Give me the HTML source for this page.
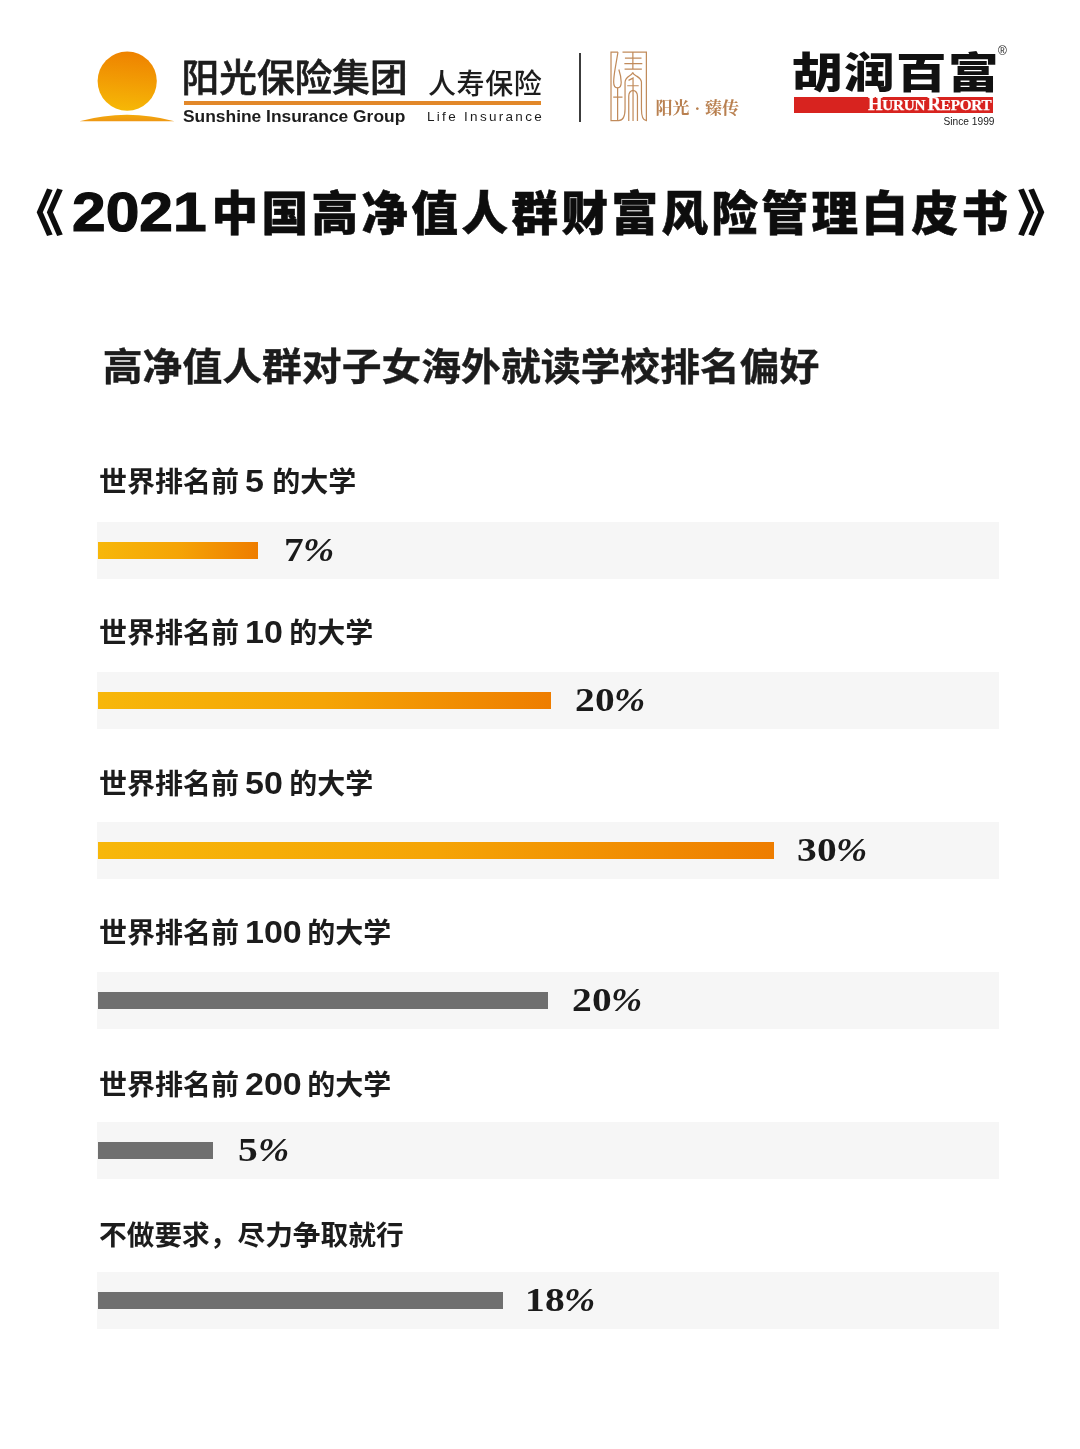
<!DOCTYPE html>
<html lang="zh-CN">
<head>
<meta charset="utf-8">
<title>2021中国高净值人群财富风险管理白皮书</title>
<style>
html,body{margin:0;padding:0;background:#fff;}
body{width:1080px;height:1449px;position:relative;overflow:hidden;font-family:"Liberation Sans","Noto Sans CJK SC",sans-serif;color:#1a1a1a;}
.abs{position:absolute;white-space:nowrap;line-height:1;}
.band{position:absolute;left:97px;width:902px;height:57px;background:#f6f6f6;}
.bar{position:absolute;left:98px;height:17px;}
.bar.o{background:linear-gradient(90deg,#f7b70a 0%,#f5a406 50%,#ee7d00 100%);}
.bar.g{background:#6f6f6f;}
.lbl{position:absolute;left:99px;white-space:nowrap;line-height:1;font-size:28px;font-weight:700;color:#1c1c1c;}
.lbl b{display:inline-block;font-family:"Liberation Sans",sans-serif;font-weight:700;font-size:31.5px;transform:scaleX(1.08);transform-origin:0 50%;margin-left:-1.5px;}
.lbl b.d1{margin-right:1.6px}.lbl b.d2{margin-right:1.2px}.lbl b.d3{margin-right:1.6px}
.pct{position:absolute;white-space:nowrap;line-height:1;font-family:"Liberation Serif",serif;font-weight:700;font-size:34px;color:#1a1a1a;}
.pct b{display:inline-block;font-weight:700;letter-spacing:0.3px;transform:scaleX(1.16);transform-origin:0 50%;}
.pct i{display:inline-block;font-style:italic;transform:scaleX(1.1);transform-origin:0 50%;}
.pct b.n1{margin-right:2.4px}.pct b.n2{margin-right:4.0px}
</style>
</head>
<body>

<!-- HEADER -->
<svg class="abs" style="left:70px;top:40px" width="120" height="90" viewBox="70 40 120 90">
  <defs>
    <linearGradient id="sun" x1="0.55" y1="0" x2="0.45" y2="1">
      <stop offset="0" stop-color="#ee8200"/>
      <stop offset="0.5" stop-color="#f29c04"/>
      <stop offset="1" stop-color="#f6b806"/>
    </linearGradient>
    <linearGradient id="sunb" x1="0" y1="0" x2="0" y2="1">
      <stop offset="0" stop-color="#f4aa0a"/>
      <stop offset="1" stop-color="#ee9714"/>
    </linearGradient>
  </defs>
  <circle cx="127.2" cy="81.1" r="29.6" fill="url(#sun)"/>
  <path d="M79.5 121.2 Q127 108.2 174.5 121.2 Z" fill="url(#sunb)"/>
</svg>
<div class="abs" style="left:181.5px;top:60px;font-size:37.7px;font-weight:500;-webkit-text-stroke:0.65px #1d1d1d;color:#1d1d1d;">阳光保险集团</div>
<div class="abs" style="left:184px;top:101px;width:357px;height:3.5px;background:#e2882a;"></div>
<div class="abs" style="left:183px;top:108px;font-size:17.4px;font-weight:700;color:#1d1d1d;">Sunshine Insurance Group</div>
<div class="abs" style="left:428px;top:70.5px;font-size:28px;font-weight:500;letter-spacing:0.6px;color:#1d1d1d;">人寿保险</div>
<div class="abs" style="left:427px;top:110px;font-size:13.5px;letter-spacing:2.3px;color:#1d1d1d;">Life Insurance</div>
<div class="abs" style="left:579px;top:53px;width:1.5px;height:69px;background:#3c3c3c;"></div>

<svg class="abs" style="left:600px;top:44px" width="60" height="84" viewBox="0 0 1035 1449" fill="none" stroke="#c18b5b" stroke-width="21" stroke-linecap="butt" stroke-linejoin="miter">
  <path d="M310 140 H190 V1320 H320 C400 1320 432 1230 432 1120 V660 C432 600 470 572 510 546 C540 528 560 512 565 488 C570 512 590 528 620 546 C660 572 715 600 715 660 V1120 C715 1230 745 1320 800 1320 V140 H388"/>
  <path d="M310 140 L262 420 C245 520 236 600 236 660 C236 720 262 756 302 756 C342 756 366 720 366 660 C366 590 345 500 325 440"/>
  <path d="M304 756 V1320 M228 915 H388"/>
  <path d="M567 140 V432 M430 245 H716 M420 340 H730 M424 432 H722"/>
  <path d="M492 628 L570 588 V1330 M470 720 H668"/>
  <path d="M570 800 C520 810 496 850 496 900 V1330 M570 800 C620 810 646 850 646 900 V1330"/>
</svg>
<div class="abs" style="left:655.5px;top:100px;font-family:'Liberation Serif','Noto Serif CJK SC',serif;font-weight:700;font-size:17px;color:#b98050;">阳光<span style="display:inline-block;width:15.5px;text-align:center">·</span>臻传</div>

<div class="abs" id="hurun" style="left:792px;top:53px;font-size:42.5px;font-weight:900;letter-spacing:1.2px;color:#111;transform:scaleX(1.19);transform-origin:0 0;">胡润百富</div>
<div class="abs" style="left:793.5px;top:97px;width:199px;height:15.5px;background:#d8231f;"></div>
<div class="abs" id="hr" style="left:868px;top:95px;font-family:'Liberation Serif',serif;font-weight:700;font-size:14.6px;color:#fff;-webkit-text-stroke:0.25px #fff;letter-spacing:-0.2px;transform:scaleX(1.04);transform-origin:0 0;line-height:18px;"><span style="font-size:18px">H</span>URUN<span style="font-size:18px;margin-left:2px">R</span>EPORT</div>
<div class="abs" id="since" style="left:943.5px;top:117px;font-size:10.2px;color:#222;">Since 1999</div>
<div class="abs" id="reg" style="left:998px;top:45px;font-size:12px;color:#222;">®</div>

<!-- TITLE -->
<div class="abs" id="title" style="left:14px;top:184px;font-size:50px;font-weight:900;color:#0d0d0d;"><span id="tq1" style="display:inline-block;transform:scaleX(1.12);transform-origin:100% 50%;">《</span><span id="tnum" style="display:inline-block;font-family:'Liberation Sans',sans-serif;font-weight:700;font-size:56px;-webkit-text-stroke:1.2px #0d0d0d;transform:scaleX(1.08);transform-origin:0 50%;margin-left:8px;width:142px;vertical-align:baseline;">2021</span><span id="tcjk" style="position:relative;top:-1px;margin-left:-2.5px;font-size:46.5px;letter-spacing:3.5px;-webkit-text-stroke:0.6px #0d0d0d;">中国高净值人群财富风险管理白皮书</span><span id="tq2" style="display:inline-block;transform:scaleX(1.12);transform-origin:0 50%;margin-left:5.5px;">》</span></div>
<div class="abs" id="sub" style="left:102.8px;top:348px;font-size:39.82px;font-weight:700;color:#1c1c1c;-webkit-text-stroke:0.4px #1c1c1c;transform:scaleY(0.95);transform-origin:0 50%;">高净值人群对子女海外就读学校排名偏好</div>

<!-- ROWS -->
<div class="lbl" style="top:466px">世界排名前 <b class="d1">5</b> 的大学</div>
<div class="band" style="top:522px"></div>
<div class="bar o" style="top:542px;width:160px"></div>
<div class="pct" style="left:283.5px;top:533.5px;margin-top:-1px"><b class="n1">7</b><i>%</i></div>

<div class="lbl" style="top:616.5px">世界排名前 <b class="d2">10</b> 的大学</div>
<div class="band" style="top:672px"></div>
<div class="bar o" style="top:692px;width:453px"></div>
<div class="pct" style="left:575px;top:683.5px;margin-top:-1px"><b class="n2">20</b><i>%</i></div>

<div class="lbl" style="top:768px">世界排名前 <b class="d2">50</b> 的大学</div>
<div class="band" style="top:822px"></div>
<div class="bar o" style="top:842px;width:676px"></div>
<div class="pct" style="left:797px;top:833.5px;margin-top:-1px"><b class="n2">30</b><i>%</i></div>

<div class="lbl" style="top:916.5px">世界排名前 <b class="d3">100</b> 的大学</div>
<div class="band" style="top:972px"></div>
<div class="bar g" style="top:992px;width:450px"></div>
<div class="pct" style="left:572px;top:983.5px;margin-top:-1px"><b class="n2">20</b><i>%</i></div>

<div class="lbl" style="top:1068.5px">世界排名前 <b class="d3">200</b> 的大学</div>
<div class="band" style="top:1122px"></div>
<div class="bar g" style="top:1142px;width:115px"></div>
<div class="pct" style="left:238px;top:1133.5px;margin-top:-1px"><b class="n1">5</b><i>%</i></div>

<div class="lbl" style="top:1222px;font-size:27.7px">不做要求，尽力争取就行</div>
<div class="band" style="top:1272px"></div>
<div class="bar g" style="top:1292px;width:405px"></div>
<div class="pct" style="left:525px;top:1283.5px;margin-top:-1px"><b class="n2">18</b><i>%</i></div>

</body>
</html>
